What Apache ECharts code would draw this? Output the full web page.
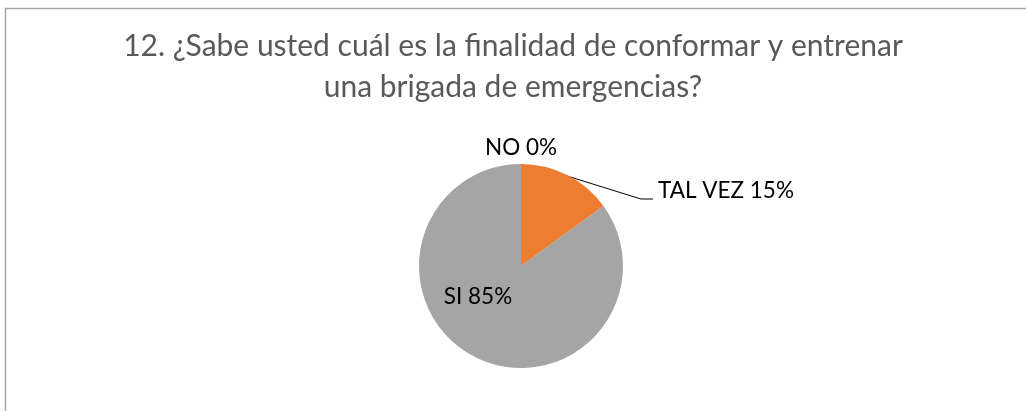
<!DOCTYPE html>
<html>
<head>
<meta charset="utf-8">
<script src="https://cdn.jsdelivr.net/npm/echarts@6/dist/echarts.min.js"></script>
<style>
  html, body { margin: 0; padding: 0; background: #fff; }
  #chart { width: 1026px; height: 411px; }
</style>
</head>
<body>
<div id="chart"></div>
<script>
// datos del gráfico
var categorias = ['NO', 'TAL VEZ', 'SI'];
var valores = [0, 15, 85];
var colores = ['#4472C4', '#ED7D31', '#A5A5A5'];
var titulo = '12. ¿Sabe usted cuál es la finalidad de conformar y entrenar\nuna brigada de emergencias?';

var fuente = 'Lato, "Open Sans", sans-serif';

var chart = echarts.init(document.getElementById('chart'));

var datos = categorias.map(function (c, i) {
  return { name: c, value: valores[i], itemStyle: { color: colores[i] } };
});

var option = {
  animation: false,
  title: {
    text: titulo,
    left: 513,
    top: 26,
    textAlign: 'center',
    padding: 0,
    textStyle: {
      fontFamily: fuente,
      fontWeight: 'normal',
      fontSize: 30,
      color: '#595959',
      lineHeight: 41
    }
  },
  graphic: [{
    type: 'rect',
    shape: { x: 5.5, y: 8.5, width: 1100, height: 500 },
    style: { fill: 'none', stroke: '#A6A6A6', lineWidth: 1.5 },
    silent: true
  }],
  series: [{
    type: 'pie',
    center: [521, 266],
    radius: 102,
    startAngle: 90,
    clockwise: true,
    stillShowZeroSum: true,
    minShowLabelAngle: 0,
    avoidLabelOverlap: false,
    data: datos,
    label: {
      show: true,
      formatter: '{b} {c}%',
      fontFamily: fuente,
      fontSize: 22.5,
      color: '#000'
    },
    labelLine: {
      show: true,
      lineStyle: { color: '#000', width: 1 }
    },
    labelLayout: function (p) {
      if (p.dataIndex === 0) {
        return { x: 521, y: 148, align: 'center', verticalAlign: 'middle', labelLinePoints: [[521, 164], [521, 164], [521, 164]] };
      }
      if (p.dataIndex === 1) {
        return { x: 658, y: 191, align: 'left', verticalAlign: 'middle', labelLinePoints: [[567, 176], [641, 199], [653, 199]] };
      }
      return { x: 478, y: 297, align: 'center', verticalAlign: 'middle', labelLinePoints: [[478, 297], [478, 297], [478, 297]] };
    }
  }]
};

chart.setOption(option);
</script>
</body>
</html>
